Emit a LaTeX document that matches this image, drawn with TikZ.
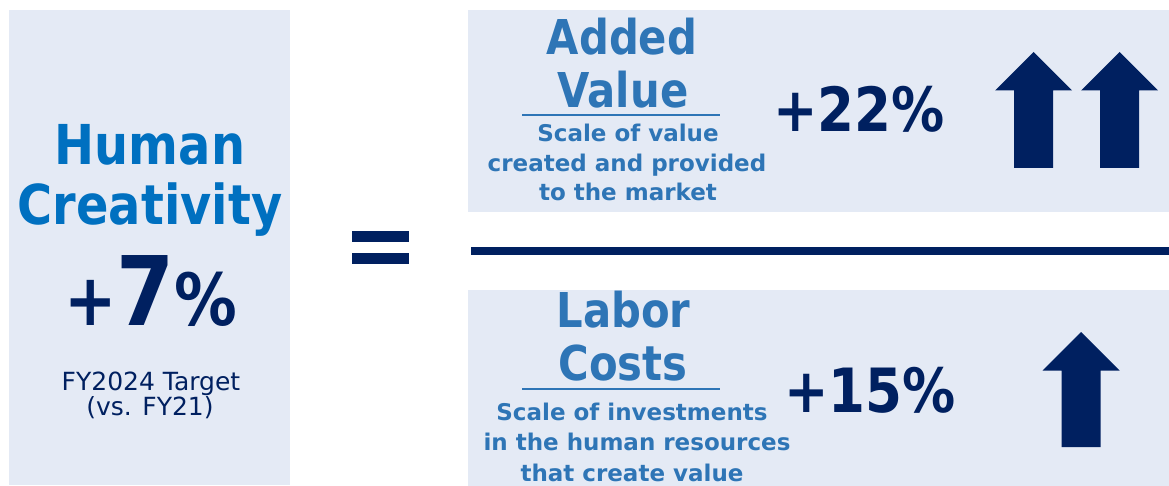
\documentclass[tikz,border=0pt]{standalone}
\usepackage{fontspec}
\setmainfont{DejaVu Sans}
\newfontfamily\bigfont[FakeStretch=0.87]{DejaVu Sans}
\usetikzlibrary{positioning}

\definecolor{panel}{HTML}{E4EAF5}
\definecolor{navy}{HTML}{002060}
\definecolor{brightblue}{HTML}{0070C0}
\definecolor{midblue}{HTML}{2E75B6}

% up arrow: centre x, tip y, bottom y
\newcommand{\bigarrow}[3]{%
  \fill[navy] (#1,#2) -- (#1+38.5,#2+38.5) -- (#1+19.5,#2+38.5) -- (#1+19.5,#3)
    -- (#1-19.5,#3) -- (#1-19.5,#2+38.5) -- (#1-38.5,#2+38.5) -- cycle;}

\begin{document}
\begin{tikzpicture}[x=1pt,y=-1pt]
\tikzset{
  titletext/.style={font=\bigfont\bfseries\fontsize{55}{55}\selectfont,text=brightblue,anchor=base,inner sep=0pt},
  headtext/.style={font=\bigfont\bfseries\fontsize{48}{48}\selectfont,text=midblue,anchor=base,inner sep=0pt},
  subtext/.style={font=\bfseries\fontsize{23}{23}\selectfont,text=midblue,anchor=base,inner sep=0pt},
  pcttext/.style={font=\bigfont\bfseries\fontsize{61}{61}\selectfont,text=navy,anchor=base,inner sep=0pt},
  notetext/.style={font=\fontsize{25}{25}\selectfont,text=navy,anchor=base,inner sep=0pt}
}
\useasboundingbox (0,0) rectangle (1169,486);

% panels
\fill[panel] (9,10) rectangle (290,485);
\fill[panel] (468,10) rectangle (1169,212);
\fill[panel] (468,290) rectangle (1169,486);

% left
\node[titletext] (human) at (150,165) {Human};
\node[titletext] (creat) at (150,225) {Creativity};
\node[pcttext] (seven) at (151,325) {{\fontsize{72}{72}\selectfont+}{\fontsize{96}{96}\selectfont 7}{\fontsize{72}{72}\selectfont\%}};
\node[notetext] (target) at (151,390) {FY2024 Target};
\node[notetext] (vs) at (150,415) {(vs. FY21)};

% equals and fraction bar
\fill[navy] (352,231) rectangle (409,242);
\fill[navy] (352,253) rectangle (409,264);
\fill[navy] (471,247) rectangle (1169,255);

% numerator
\node[headtext] (added) at (622,55) {Added};
\node[headtext] (value) at (623,108) {Value};
\draw[midblue,line width=1.2pt] (522,115) -- (720,115);
\node[subtext] (n1) at (628,142) {Scale of value};
\node[subtext] (n2) at (627,172) {created and provided};
\node[subtext] (n3) at (628,201) {to the market};
\node[pcttext] (p22) at (859,132) {+22\%};
\bigarrow{1033.5}{52}{168}
\bigarrow{1119.5}{52}{168}

% denominator
\node[headtext] (labor) at (623.5,327) {Labor};
\node[headtext] (costs) at (623,380) {Costs};
\draw[midblue,line width=1.2pt] (522,389) -- (720,389);
\node[subtext] (d1) at (632,420) {Scale of investments};
\node[subtext] (d2) at (637,450) {in the human resources};
\node[subtext] (d3) at (632,481) {that create value};
\node[pcttext] (p15) at (870,412) {+15\%};
\bigarrow{1081}{332}{447}

\end{tikzpicture}
\end{document}
